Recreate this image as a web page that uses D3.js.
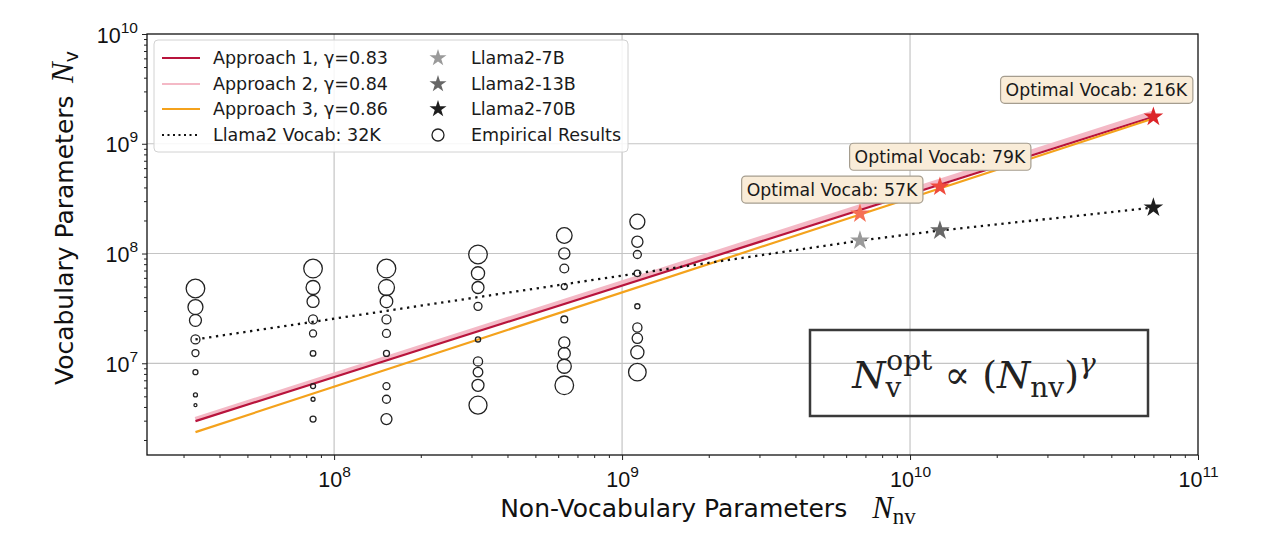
<!DOCTYPE html>
<html>
<head>
<meta charset="utf-8">
<script src="https://cdn.jsdelivr.net/npm/d3@7"></script>
<style>
  body { margin: 0; background: #fff; }
  svg { font-family: "DejaVu Sans", sans-serif; }
</style>
</head>
<body>
<svg id="chart" width="1280" height="545"></svg>
<script>
// ---- data ----
var modelSizes = [3.3e7, 8.45e7, 1.52e8, 3.16e8, 6.3e8, 1.13e9];   // non-vocab params per column
var empiricalVocab = [
  [4.8e7, 3.25e7, 2.46e7, 1.65e7, 1.24e7, 8.3e6, 5.15e6, 4.15e6],
  [7.3e7, 4.9e7, 3.66e7, 2.51e7, 1.87e7, 1.23e7, 6.2e6, 4.7e6, 3.1e6],
  [7.3e7, 4.9e7, 3.66e7, 2.51e7, 1.87e7, 1.23e7, 6.2e6, 4.7e6, 3.1e6],
  [9.8e7, 6.6e7, 4.9e7, 3.3e7, 1.65e7, 1.04e7, 8.3e6, 6.3e6, 4.15e6],
  [1.46e8, 1.0e8, 7.3e7, 5.0e7, 2.51e7, 1.55e7, 1.23e7, 9.4e6, 6.3e6],
  [1.95e8, 1.28e8, 9.8e7, 6.6e7, 3.3e7, 2.12e7, 1.69e7, 1.26e7, 8.3e6]
];
// relative marker magnitude (0-10) of each empirical point
var empiricalScore = [
  [9.3, 7.5, 6, 4.5, 3.5, 2.5, 2, 1.5],
  [9.3, 7, 6, 4.5, 3.5, 2.8, 2.5, 2, 3],
  [9.3, 8, 6.3, 4.5, 4, 3, 3.5, 4, 5.5],
  [9.3, 6.6, 6, 4, 2.6, 4.6, 4.8, 6, 9],
  [7.8, 5.6, 4.4, 3, 3.4, 5.6, 6, 7, 9.3],
  [7.5, 5.6, 4, 3.2, 2.6, 4.6, 5.2, 6.6, 8.8]
];

var fitX = [3.3e7, 7e10];
var approach1Y = [2.97e6, 1.76e9];
var approach2Y = [3.09e6, 1.91e9];
var approach3Y = [2.36e6, 1.70e9];

var llamaX = [6.7e9, 1.27e10, 7e10];
var llamaNames = ['Llama2-7B', 'Llama2-13B', 'Llama2-70B'];
var llamaVocabY = [1.31e8, 1.62e8, 2.62e8];
var optimalY = [2.31e8, 4.06e8, 1.76e9];
var optimalLabels = ['Optimal Vocab: 57K', 'Optimal Vocab: 79K', 'Optimal Vocab: 216K'];

var vocab32kX = [3.3e7, 1.13e9, 6.7e9, 1.27e10, 7e10];
var vocab32kY = [1.65e7, 6.6e7, 1.31e8, 1.62e8, 2.62e8];

var xMajor = [1e8, 1e9, 1e10, 1e11];
var yMajor = [1e7, 1e8, 1e9, 1e10];

// ---- layout ----
var plotL = 147, plotR = 1198, plotT = 34, plotB = 455;
var svg = d3.select('#chart');

var xScale = d3.scaleLog().domain([2.24e7, 1e11]).range([plotL, plotR]);
var yScale = d3.scaleLog().domain([1.46e6, 1e10]).range([plotB, plotT]);
var rScale = d3.scaleLinear().domain([0, 10]).range([0, 10]);

var approachColors = ['#b8143c', '#f4b9c6', '#f4a21c'];
var grayStars = ['#9a9a9a', '#676767', '#1e1e1e'];
var redStars = ['#f56f55', '#ef4a3d', '#dc2428'];
var mathFont = '"DejaVu Serif", "Liberation Serif", serif';

function minors(lo, hi) {
  var out = [];
  for (var e = lo; e < hi; e++) {
    for (var m = 2; m < 10; m++) out.push(m * Math.pow(10, e));
  }
  return out;
}

// grid
svg.append('g')
  .selectAll('line')
  .data(xMajor.slice(0, 3))
  .join('line')
  .attr('x1', d => xScale(d)).attr('x2', d => xScale(d))
  .attr('y1', plotT).attr('y2', plotB)
  .attr('stroke', '#c4c4c4').attr('stroke-width', 1.2);
svg.append('g')
  .selectAll('line')
  .data(yMajor.slice(0, 3))
  .join('line')
  .attr('x1', plotL).attr('x2', plotR)
  .attr('y1', d => yScale(d)).attr('y2', d => yScale(d))
  .attr('stroke', '#c4c4c4').attr('stroke-width', 1.2);

// fit lines
var line = d3.line().x(d => xScale(d[0])).y(d => yScale(d[1]));
var fits = [
  {y: approach2Y, color: approachColors[1], w: 5},
  {y: approach1Y, color: approachColors[0], w: 2.2},
  {y: approach3Y, color: approachColors[2], w: 2.2}
];
fits.forEach(function(f) {
  svg.append('path')
    .datum(fitX.map((x, i) => [x, f.y[i]]))
    .attr('d', line)
    .attr('fill', 'none')
    .attr('stroke', f.color)
    .attr('stroke-width', f.w);
});

// Llama2 32K vocab dotted
svg.append('path')
  .datum(vocab32kX.map((x, i) => [x, vocab32kY[i]]))
  .attr('d', line)
  .attr('fill', 'none')
  .attr('stroke', '#111')
  .attr('stroke-width', 2.3)
  .attr('stroke-dasharray', '2.3,4.6');

// empirical circles
var pts = [];
modelSizes.forEach(function(x, c) {
  empiricalVocab[c].forEach(function(v, i) {
    pts.push({x: x, y: v, s: empiricalScore[c][i]});
  });
});
svg.append('g')
  .selectAll('circle')
  .data(pts)
  .join('circle')
  .attr('cx', d => xScale(d.x))
  .attr('cy', d => yScale(d.y))
  .attr('r', d => rScale(d.s))
  .attr('fill', 'none')
  .attr('stroke', '#222')
  .attr('stroke-width', 1.3);

// stars
var star = d3.symbol().type(d3.symbolStar).size(120);
llamaX.forEach(function(x, i) {
  svg.append('path')
    .attr('d', star)
    .attr('transform', `translate(${xScale(x)},${yScale(llamaVocabY[i])})`)
    .attr('fill', grayStars[i]);
  svg.append('path')
    .attr('d', star)
    .attr('transform', `translate(${xScale(x)},${yScale(optimalY[i])})`)
    .attr('fill', redStars[i]);
});

// optimal vocab annotations (offset of box centre from the star)
var boxOffsets = [[-28, -24], [0, -30], [-57, -27]];
optimalLabels.forEach(function(lbl, i) {
  var cx = xScale(llamaX[i]) + boxOffsets[i][0];
  var cy = yScale(optimalY[i]) + boxOffsets[i][1];
  var g = svg.append('g');
  var t = g.append('text')
    .attr('x', cx).attr('y', cy + 6)
    .attr('text-anchor', 'middle')
    .attr('font-size', 17.3)
    .attr('fill', '#1a1a1a')
    .text(lbl);
  var bb = t.node().getBBox();
  g.insert('rect', 'text')
    .attr('x', bb.x - 5).attr('y', cy - 13.5)
    .attr('width', bb.width + 10).attr('height', 27)
    .attr('rx', 4)
    .attr('fill', '#f9ecd8')
    .attr('stroke', '#a59d8f')
    .attr('stroke-width', 1.2);
});

// formula box (transparent, grid shows through)
svg.append('rect')
  .attr('x', 810).attr('y', 330).attr('width', 338).attr('height', 86)
  .attr('fill', 'none').attr('stroke', '#3a3a3a').attr('stroke-width', 2.5);
var ft = svg.append('text')
  .attr('x', 974).attr('y', 388)
  .attr('text-anchor', 'middle')
  .attr('font-family', mathFont)
  .attr('font-size', 38)
  .attr('fill', '#222');
ft.append('tspan').attr('font-style', 'italic').text('N');
ft.append('tspan').attr('font-size', 28).attr('dy', 9).text('v');
ft.append('tspan').attr('font-size', 28).attr('dx', -15).attr('dy', -27).text('opt');
ft.append('tspan').attr('dy', 18).text(' \u221D (');
ft.append('tspan').attr('font-style', 'italic').text('N');
ft.append('tspan').attr('font-size', 28).attr('dy', 9).text('nv');
ft.append('tspan').attr('dy', -9).text(')');
ft.append('tspan').attr('font-size', 28).attr('font-style', 'italic').attr('dy', -15).text('\u03B3');

// frame
svg.append('rect')
  .attr('x', plotL).attr('y', plotT)
  .attr('width', plotR - plotL).attr('height', plotB - plotT)
  .attr('fill', 'none').attr('stroke', '#111').attr('stroke-width', 1.3);

// axes
var xAxis = svg.append('g').attr('transform', `translate(0,${plotB})`)
  .call(d3.axisBottom(xScale).tickValues(xMajor).tickSize(5).tickFormat(''));
svg.append('g').attr('transform', `translate(0,${plotB})`)
  .call(d3.axisBottom(xScale).tickValues(minors(7, 11).filter(v => v >= 2.24e7)).tickSize(3).tickFormat(''));
var yAxis = svg.append('g').attr('transform', `translate(${plotL},0)`)
  .call(d3.axisLeft(yScale).tickValues(yMajor).tickSize(5).tickFormat(''));
svg.append('g').attr('transform', `translate(${plotL},0)`)
  .call(d3.axisLeft(yScale).tickValues(minors(6, 10).filter(v => v >= 1.46e6)).tickSize(3).tickFormat(''));
svg.selectAll('.domain').remove();
svg.selectAll('.tick line').attr('stroke', '#222');

xAxis.selectAll('.tick').each(function(d) {
  var t = d3.select(this).append('text')
    .attr('y', 32).attr('fill', '#111')
    .attr('font-size', 21.5).attr('text-anchor', 'middle');
  t.append('tspan').text('10');
  t.append('tspan').attr('font-size', 15.5).attr('dy', -10).text(Math.round(Math.log10(d)));
});
yAxis.selectAll('.tick').each(function(d) {
  var t = d3.select(this).append('text')
    .attr('x', -9).attr('y', 8).attr('fill', '#111')
    .attr('font-size', 21.5).attr('text-anchor', 'end');
  t.append('tspan').text('10');
  t.append('tspan').attr('font-size', 15.5).attr('dy', -10).text(Math.round(Math.log10(d)));
});

// axis titles
var xt = svg.append('text')
  .attr('x', 708).attr('y', 517)
  .attr('text-anchor', 'middle')
  .attr('font-size', 25).attr('fill', '#111');
xt.append('tspan').text('Non-Vocabulary Parameters\u2003');
xt.append('tspan').attr('font-family', '"Liberation Serif", serif').attr('font-style', 'italic').attr('font-size', 31).attr('dy', 1).text('N');
xt.append('tspan').attr('font-family', '"Liberation Serif", serif').attr('font-size', 23).attr('dy', 6).text('nv');

var yt = svg.append('text')
  .attr('transform', 'translate(73,218) rotate(-90)')
  .attr('text-anchor', 'middle')
  .attr('font-size', 25).attr('fill', '#111');
yt.append('tspan').text('Vocabulary Parameters\u2002');
yt.append('tspan').attr('font-family', '"Liberation Serif", serif').attr('font-style', 'italic').attr('font-size', 31).text('N');
yt.append('tspan').attr('font-size', 19).attr('dy', 5).text('v');

// legend
var lg = svg.append('g');
lg.append('rect')
  .attr('x', 154).attr('y', 40).attr('width', 474).attr('height', 112)
  .attr('rx', 4)
  .attr('fill', '#fff').attr('fill-opacity', 0.85)
  .attr('stroke', '#d2d2d2').attr('stroke-width', 1);
var rowY = [58, 84, 109, 135];
var leftItems = [
  {label: 'Approach 1, \u03B3=0.83', color: approachColors[0]},
  {label: 'Approach 2, \u03B3=0.84', color: approachColors[1]},
  {label: 'Approach 3, \u03B3=0.86', color: approachColors[2]},
  {label: 'Llama2 Vocab: 32K', color: '#111', dash: '2,3.5'}
];
leftItems.forEach(function(it, i) {
  lg.append('line')
    .attr('x1', 162).attr('x2', 200)
    .attr('y1', rowY[i]).attr('y2', rowY[i])
    .attr('stroke', it.color).attr('stroke-width', 2)
    .attr('stroke-dasharray', it.dash || null);
  lg.append('text')
    .attr('x', 213).attr('y', rowY[i] + 6)
    .attr('font-size', 17.5).attr('fill', '#1a1a1a')
    .text(it.label);
});
var legendStar = d3.symbol().type(d3.symbolStar).size(90);
llamaNames.forEach(function(n, i) {
  lg.append('path')
    .attr('d', legendStar)
    .attr('transform', `translate(438,${rowY[i]})`)
    .attr('fill', grayStars[i]);
  lg.append('text')
    .attr('x', 471).attr('y', rowY[i] + 6)
    .attr('font-size', 17.5).attr('fill', '#1a1a1a')
    .text(n);
});
lg.append('circle')
  .attr('cx', 438).attr('cy', rowY[3]).attr('r', 6)
  .attr('fill', 'none').attr('stroke', '#222').attr('stroke-width', 1.3);
lg.append('text')
  .attr('x', 471).attr('y', rowY[3] + 6)
  .attr('font-size', 17.5).attr('fill', '#1a1a1a')
  .text('Empirical Results');
</script>
</body>
</html>
